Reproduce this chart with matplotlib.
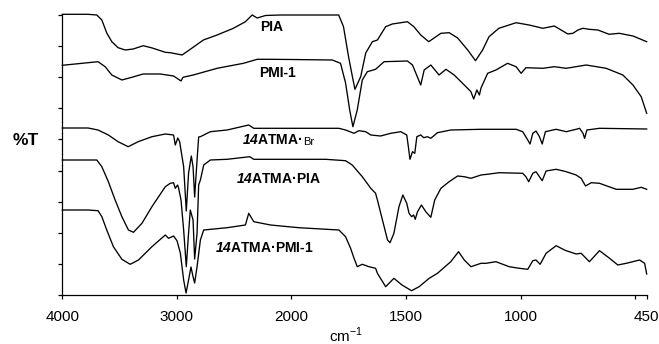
import numpy as np
import matplotlib
matplotlib.use('Agg')
import matplotlib.pyplot as plt

plt.rcParams['font.family'] = ['Liberation Sans', 'DejaVu Sans']
plt.rcParams['mathtext.fontset'] = 'custom'
plt.rcParams['mathtext.rm'] = 'Liberation Sans'
plt.rcParams['mathtext.bfit'] = 'Liberation Sans:italic:bold'

# spectra: wavenumber (cm-1) and offset %T (arbitrary units)
pia_wn = [4000, 3775, 3699, 3655, 3612, 3568, 3513, 3451, 3381, 3294,
          3215, 3101, 3058, 2955, 2883, 2769, 2649, 2507, 2402, 2343,
          2299, 2227, 2100, 2000, 1900, 1794, 1773, 1751, 1733, 1723,
          1698, 1676, 1647, 1625, 1589, 1560, 1494, 1466, 1436, 1401,
          1348, 1312, 1275, 1231, 1197, 1166, 1138, 1095, 1020, 963,
          903, 853, 794, 772, 750, 728, 701, 663, 614, 570,
          510, 450]
pia_t = [280.7, 280.7, 280, 275, 262, 253.3, 247.3, 245, 246, 249.3,
         247, 242.7, 242.3, 240, 245.7, 255, 260, 266.7, 273.3, 280,
         277, 279.5, 280, 280, 280, 280, 268.3, 238.3, 217, 205.7,
         218.3, 242, 253.3, 255, 268.3, 271, 273.3, 268.3, 260, 253.3,
         261.7, 262.3, 257, 245, 234.3, 245, 258.3, 266.7, 272.3, 270,
         266.7, 269, 261, 261.7, 265, 266.7, 265.7, 265, 260.7, 261.7,
         259, 253.3]

pmi_wn = [4000, 3775, 3688, 3626, 3568, 3480, 3393, 3294, 3145, 3029,
          2964, 2947, 2857, 2649, 2419, 2299, 2183, 2000, 1822, 1786,
          1764, 1746, 1732, 1713, 1691, 1669, 1633, 1596, 1494, 1472,
          1436, 1421, 1392, 1356, 1326, 1290, 1246, 1217, 1205, 1191,
          1180, 1173, 1144, 1108, 1057, 1020, 998, 977, 903, 853,
          801, 714, 627, 554, 510, 474, 450]
pmi_t = [229.7, 232.3, 233.3, 228.3, 220, 215, 217.7, 221, 221, 219,
         214, 217.7, 220, 226.7, 231.7, 235.7, 235.7, 235.5, 235, 231.7,
         212, 185, 168.3, 185, 215, 223.3, 225.7, 233.3, 234, 230,
         210, 225, 230, 220, 225.7, 220, 210, 203.3, 196, 205,
         200, 207, 221.7, 225, 231.7, 228.3, 221.7, 227.3, 226.7, 228.3,
         226.7, 230, 226.7, 220, 210, 198.3, 181.7]

br_wn = [4000, 3775, 3688, 3598, 3513, 3425, 3338, 3218, 3101, 3029,
         3014, 2992, 2976, 2941, 2918, 2898, 2874, 2859, 2845, 2824,
         2810, 2795, 2708, 2562, 2373, 2329, 2183, 2000, 1793, 1764,
         1727, 1706, 1676, 1654, 1611, 1567, 1523, 1497, 1490, 1483,
         1472, 1462, 1453, 1436, 1423, 1407, 1392, 1363, 1305, 1173,
         1020, 991, 969, 959, 947, 933, 918, 906, 892, 845,
         801, 758, 743, 728, 721, 711, 656, 450]
br_t = [167, 167, 165, 160, 153.3, 148.3, 153.3, 158.3, 161, 160,
        150, 157, 153.3, 128.3, 84, 122, 139, 128.3, 98, 135,
        158, 158.3, 163.3, 165, 170, 166.7, 166.7, 166.7, 166.7, 165,
        161.7, 164.3, 163.3, 160, 159, 161.7, 163.3, 160, 148.3, 135.7,
        143.3, 141.7, 158.3, 160, 157.3, 158.3, 156.7, 162.3, 165, 165.7,
        165.7, 163.3, 155, 151, 161.7, 164, 158.3, 151, 163.3, 165.7,
        163.3, 165.7, 166.7, 161.7, 156.7, 165, 166.7, 166]

atma_pia_wn = [4000, 3699, 3655, 3598, 3539, 3480, 3423, 3379, 3305, 3218,
               3101, 3058, 3029, 3014, 2994, 2985, 2964, 2941, 2918, 2898,
               2883, 2859, 2845, 2824, 2810, 2795, 2766, 2708, 2562, 2364,
               2329, 2183, 2000, 1851, 1764, 1735, 1691, 1654, 1633, 1625,
               1603, 1581, 1570, 1553, 1531, 1514, 1497, 1487, 1476, 1467,
               1460, 1450, 1433, 1414, 1392, 1375, 1348, 1312, 1275, 1246,
               1217, 1173, 1136, 1093, 991, 977, 965, 947, 933, 918,
               906, 889, 845, 801, 758, 736, 717, 692, 656, 583,
               510, 474, 450]
atma_pia_t = [135, 135, 128.3, 113.3, 95, 78.3, 65, 62.7, 71.7, 88.3,
              108.3, 111.7, 112.3, 106.7, 110, 107, 95, 65, 28.3, 62,
              85, 75, 36, 62, 110, 115, 130, 135, 135.7, 138.3,
              135.7, 135.7, 135.7, 135.7, 134.3, 130, 118.3, 106.7, 101.7, 95,
              75, 55, 52.3, 61.7, 88.3, 100, 91.7, 81.7, 78.3, 80,
              75.7, 83.3, 90, 83.3, 77.7, 95, 106.7, 113.3, 119, 118.3,
              116.7, 120, 121, 122.3, 121.7, 118.3, 113.3, 121.7, 123.3, 118.3,
              114.3, 124, 125.7, 123.3, 120, 116.7, 109, 112.3, 111.7, 105.7,
              105.7, 107.7, 105.7]

atma_pmi_wn = [4000, 3775, 3688, 3655, 3612, 3554, 3480, 3408, 3335, 3218,
               3101, 3073, 3029, 2999, 2970, 2941, 2920, 2898, 2877, 2859,
               2845, 2824, 2795, 2766, 2562, 2402, 2373, 2329, 2183, 1968,
               1793, 1764, 1742, 1727, 1713, 1691, 1662, 1633, 1625, 1589,
               1553, 1518, 1476, 1443, 1399, 1363, 1305, 1271, 1246, 1217,
               1173, 1151, 1108, 1050, 1006, 969, 947, 933, 915, 889,
               845, 809, 801, 758, 736, 700, 656, 612, 576, 539,
               481, 459, 450]
atma_pmi_t = [85, 85, 84.3, 78.3, 65, 48.3, 35.7, 30.7, 35, 48.3,
              60, 56.7, 59, 54.3, 42, 15, 2, 15, 28, 18.3,
              12, 28.3, 55, 65, 67.3, 70, 81.7, 73.3, 70, 67.3,
              65, 58.3, 46.7, 36.7, 28.3, 30.7, 28.3, 26.7, 21.7, 8.3,
              16.7, 10, 4.3, 8.3, 16.7, 21.7, 33.3, 43.3, 35, 28.3,
              31.7, 31.7, 33.3, 28.3, 26.7, 25.7, 34.3, 35, 30.7, 41.7,
              49.3, 45, 44.3, 41, 41.7, 33.3, 44.3, 36.7, 30, 31.7,
              35, 31.7, 21]

xticks = [4000, 3000, 2000, 1500, 1000, 500, 450]
xticklabels = ['4000', '3000', '2000', '1500', '1000', '', '450']


# IR spectrometer axis: half scale above 2000 cm-1
def fwd(x):
    x = np.asarray(x, dtype=float)
    return np.where(x <= 2000, x, 2000 + (x - 2000) / 2)


def inv(y):
    y = np.asarray(y, dtype=float)
    return np.where(y <= 2000, y, 2000 + (y - 2000) * 2)


fig = plt.figure(figsize=(6.59, 3.44), dpi=100)
ax = fig.add_axes([62.3 / 659, 49 / 344, 584.4 / 659, 280 / 344])
ax.set_xscale('function', functions=(fwd, inv))

for wn, t in [(pia_wn, pia_t), (pmi_wn, pmi_t), (br_wn, br_t),
              (atma_pia_wn, atma_pia_t), (atma_pmi_wn, atma_pmi_t)]:
    ax.plot(wn, t, color='black', lw=0.95, clip_on=False)

ax.set_xlim(4000, 450)
ax.set_ylim(0, 280)
ax.set_xticks(xticks)
ax.set_xticklabels(xticklabels, fontsize=11)
ax.set_yticks(np.linspace(0, 280, 10))
ax.set_yticklabels([])
ax.minorticks_off()
ax.tick_params(direction='out', length=3, width=0.9, pad=8)
for s in ['top', 'right']:
    ax.spines[s].set_visible(False)
for s in ['left', 'bottom']:
    ax.spines[s].set_linewidth(0.9)

fig.text(346 / 659, 1 - 335 / 344, 'cm$^{-1}$', fontsize=11, ha='center', va='center')
fig.text(26 / 659, 1 - 140 / 344, '%T', fontsize=12.5, fontweight='bold', ha='center', va='center')

ax.text(2174, 268.3, 'PIA', fontsize=10, fontweight='bold', ha='center', va='center')
ax.text(2124, 221.7, 'PMI-1', fontsize=10, fontweight='bold', ha='center', va='center')


def atma_label(x, y, rest, small=None):
    t = ax.text(x, y, r'$\mathbfit{14}$' + rest, fontsize=10, fontweight='bold',
                ha='left', va='baseline')
    if small:
        ax.annotate(small, xy=(1, 0), xycoords=t, xytext=(0.3, 0.5), textcoords='offset points',
                    fontsize=8, va='bottom')


atma_label(2430, 150.7, 'ATMA·', 'Br')
atma_label(2480, 111.7, 'ATMA·PIA')
atma_label(2670, 43.3, 'ATMA·PMI-1')

fig.savefig('out.png', dpi=100)
